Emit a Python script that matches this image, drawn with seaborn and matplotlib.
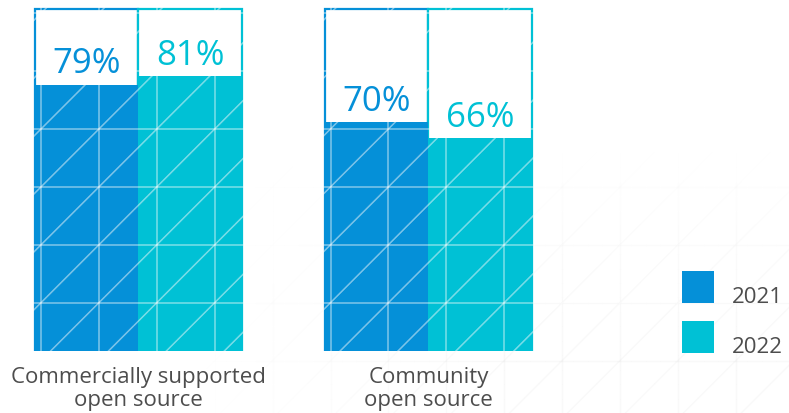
import numpy as np
import pandas as pd
import seaborn as sns
import matplotlib
matplotlib.use("Agg")
import matplotlib.pyplot as plt
from matplotlib.collections import LineCollection
from matplotlib.transforms import IdentityTransform
from matplotlib.patches import Patch, Rectangle
from matplotlib.legend_handler import HandlerPatch

# ---- data -------------------------------------------------------------
categories = ["Commercially supported\nopen source", "Community\nopen source"]
years = ["2021", "2022"]
share_2021 = [79, 70]
share_2022 = [81, 66]
year_colors = ["#0590D8", "#00C1D5"]
text_grey = "#4D4D4D"

# value range shown by the panel (bars start below the visible floor)
axis_floor, frame_top, axis_top = 14.5, 97.3, 99.72

df = pd.DataFrame({
    "source": categories * 2,
    "year": [years[0]] * 2 + [years[1]] * 2,
    "share": share_2021 + share_2022,
})
df["frame"] = frame_top

# ---- style ------------------------------------------------------------
sns.set_theme(style="white")
plt.rcParams["font.family"] = ["Open Sans", "DejaVu Sans"]

W, H = 789, 414
fig = plt.figure(figsize=(W / 100, H / 100), dpi=100)
fig.patch.set_facecolor("white")
ax = fig.add_axes([0, 62 / H, 1, 352 / H])
ax.patch.set_alpha(0)

palette = dict(zip(years, year_colors))

# outlined frames (white inside, coloured border)
sns.barplot(data=df, x="source", y="frame", hue="year", hue_order=years,
            palette=palette, width=0.717, legend=False, ax=ax,
            saturation=1, zorder=2)
for cont, col in zip(ax.containers[:2], year_colors):
    for p in cont:
        p.set_facecolor("white")
        p.set_edgecolor(col)
        p.set_linewidth(1.6)

# actual share bars
sns.barplot(data=df, x="source", y="share", hue="year", hue_order=years,
            palette=palette, width=0.717, legend=False, ax=ax,
            saturation=1, zorder=3)
value_conts = ax.containers[2:4]
for cont, col in zip(value_conts, year_colors):
    for p in cont:
        p.set_edgecolor("none")
    ax.bar_label(cont, labels=[f"{int(v)}%" for v in cont.datavalues],
                 padding=3, fontsize=25, color=col, zorder=5)

# ---- triangular grid texture ----------------------------------------
step, gx0, gy0 = 57.9, 41.0, 130.0


def grid_segments(piece=step / 4):
    segs = []
    for k in range(-2, 16):                       # vertical lines
        x = gx0 + k * step
        ys = np.arange(-20, H + 20, piece)
        segs += [((x, a), (x, a + piece)) for a in ys]
    for k in range(-4, 7):                        # horizontal lines
        y = gy0 + k * step
        xs = np.arange(-20, W + 20, piece)
        segs += [((a, y), (a + piece, y)) for a in xs]
    for k in range(-12, 26):                      # diagonals x + y = c
        c = gx0 + gy0 + k * step
        xs = np.arange(-40, W + 40, piece)
        segs += [((a, c - a), (a + piece, c - a - piece)) for a in xs]
    return segs


segs_img = grid_segments()
segs_disp = [((x1, H - y1), (x2, H - y2)) for (x1, y1), (x2, y2) in segs_img]

# faint background pattern, fading out towards the top and the left
mid = np.array([((x1 + x2) / 2, (y1 + y2) / 2) for (x1, y1), (x2, y2) in segs_img])
w = np.clip((mid[:, 1] - 150) / 160, 0, 1) * np.clip((mid[:, 0] - 200) / 300, 0, 1)
bg_cols = np.zeros((len(segs_disp), 4))
bg_cols[:, :3] = 0.55
bg_cols[:, 3] = 0.05 * w
bg = LineCollection(segs_disp, colors=bg_cols, linewidths=1.0,
                    transform=IdentityTransform(), zorder=0)
bg.set_clip_on(False)
ax.add_collection(bg, autolim=False)

# lighter pattern on top of the coloured bars
for cont in value_conts:
    for p in cont:
        lc = LineCollection(segs_disp, colors=(1, 1, 1, 0.15), linewidths=1.1,
                            transform=IdentityTransform(), zorder=4)
        lc.set_clip_path(p)
        ax.add_collection(lc, autolim=False)

# ---- axes cosmetics -------------------------------------------------
ax.set_xlim(-138.5 / 290, (W - 138.5) / 290)
ax.set_ylim(axis_floor, axis_top)
ax.set_yticks([])
ax.set_xticks([0, 1])
ax.set_xticklabels(categories, fontsize=16, color=text_grey, linespacing=1.1)
ax.tick_params(axis="x", length=0, pad=11)
ax.set_xlabel("")
ax.set_ylabel("")
for s in ax.spines.values():
    s.set_visible(False)


# ---- legend ----------------------------------------------------------
def square_patch(legend, orig_handle, xdescent, ydescent, width, height, fontsize):
    # square sitting on the text baseline
    return Rectangle((-xdescent, -0.7), width, width)


handles = [Patch(facecolor=c, edgecolor="none") for c in year_colors]
fig.legend(handles, years, loc="upper left",
           bbox_to_anchor=(682 / W, 1 - 280 / H), frameon=False,
           fontsize=16, labelcolor=text_grey, borderpad=0, borderaxespad=0,
           handlelength=1.44, handleheight=1.835, handletextpad=0.8,
           labelspacing=0.81,
           handler_map={Patch: HandlerPatch(patch_func=square_patch)})

fig.savefig("out.png", dpi=100)
